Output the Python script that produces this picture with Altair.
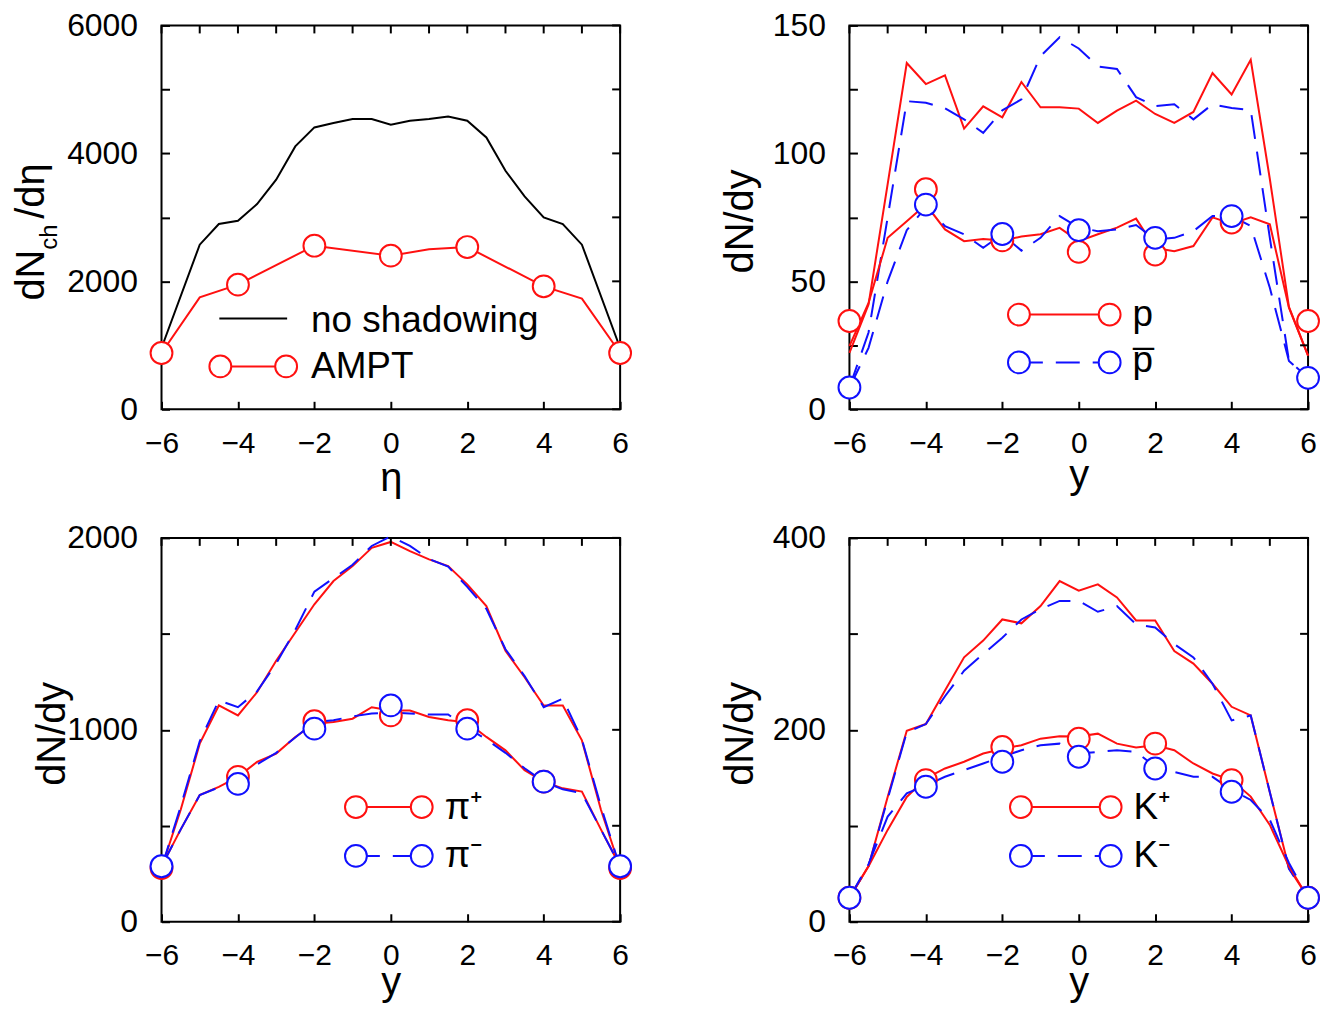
import altair as alt
import pandas as pd

FONT = "Liberation Sans"
RED = "#ff1010"
BLUE = "#1010ff"
BLACK = "#000000"
W, H = 460, 385
DASH = [24, 13]
LW = 2
TICK = 8

# ---------------- data ----------------
X_HALF = [-6, -5.5, -5, -4.5, -4, -3.5, -3, -2.5, -2, -1.5, -1, -0.5, 0,
          0.5, 1, 1.5, 2, 2.5, 3, 3.5, 4, 4.5, 5, 5.5, 6]
X_EVEN = [-6, -4, -2, 0, 2, 4, 6]
X_TICKS = [-6, -5, -4, -3, -2, -1, 0, 1, 2, 3, 4, 5, 6]

# (a) charged particles vs eta
ETA_NS = [-6, -5, -4.5, -4, -3.5, -3, -2.5, -2, -1.5, -1, -0.5, 0, 0.5, 1,
          1.5, 2, 2.5, 3, 3.5, 4, 4.5, 5, 6]
DNCH_NS = [958, 2573, 2896, 2948, 3208, 3589, 4109, 4406, 4474, 4536, 4536,
           4448, 4510, 4536, 4578, 4510, 4250, 3729, 3328, 3000, 2896, 2573, 958]
ETA_AMPT = [-6, -5, -4, -2, 0, 1, 2, 4, 5, 6]
DNCH_AMPT = [880, 1750, 1948, 2557, 2401, 2500, 2536, 1922, 1729, 880]
DNCH_AMPT_PTS = [880, 1948, 2557, 2401, 2536, 1922, 880]

# (b) protons / antiprotons
P_NS = [22, 41, 88, 135.3, 127.1, 130.5, 109.7, 118.4, 114.1, 127.9, 118.0,
        118.0, 117.5, 111.9, 116.7, 120.6, 115.4, 111.9, 116.2, 131.4, 123.0,
        136.6, 90, 40, 21]
PBAR_NS = [8.5, 30, 75, 120.4, 119.8, 117.6, 113.3, 108.0, 116.8, 121.1, 138.0,
           145.4, 141, 134, 133, 122, 118.5, 119.2, 113.3, 119.2, 117.7, 117,
           67, 19, 12.3]
P_AMPT = [24.7, 41.6, 67, 73.5, 80, 70.3, 65.7, 66.5, 66, 67.5, 68.4, 70.9,
          65.7, 68.4, 71, 74.5, 63, 61.8, 63.8, 75, 72.5, 75, 72.3, 39.7, 21]
PBAR_AMPT = [8.4, 24, 50, 70, 79, 71.6, 68.4, 63.1, 68.4, 62, 67, 75.5, 71,
             69.6, 70.3, 72, 66.4, 67, 69.6, 75.5, 75.5, 71.6, 47.5, 18.9, 12.3]
P_PTS = [34.5, 86, 66, 61.5, 60.5, 73, 34.5]
PBAR_PTS = [8.5, 80, 68.5, 70, 67, 75.5, 12.3]

# (c) pions
PIP_NS = [280, 582, 928, 1127, 1075, 1196, 1360, 1507, 1654, 1775, 1853, 1948,
          1979, 1931, 1888, 1853, 1758, 1645, 1412, 1274, 1127, 1127, 945, 582, 280]
PIM_NS = [280, 600, 940, 1153, 1118, 1200, 1345, 1520, 1720, 1790, 1860, 1958,
          2008, 1958, 1890, 1850, 1745, 1630, 1420, 1280, 1118, 1162, 950, 600, 280]
PIP_AMPT = [289, 480, 660, 703, 755, 833, 876, 963, 1032, 1041, 1058, 1118,
            1101, 1101, 1067, 1050, 1040, 963, 893, 790, 730, 695, 678, 480, 289]
PIM_AMPT = [289, 480, 660, 700, 740, 820, 880, 960, 1040, 1050, 1070, 1085,
            1090, 1085, 1080, 1080, 1010, 950, 880, 800, 730, 690, 670, 480, 289]
PIP_PTS = [280, 755, 1045, 1075, 1050, 730, 280]
PIM_PTS = [289, 718, 1006, 1127, 1006, 730, 289]

# (d) kaons
KP_NS = [25, 58, 130, 199, 206, 241, 275.5, 293, 315, 311, 329, 355, 345,
         351.6, 338, 314, 314, 282, 269, 248, 224, 215, 135, 56, 25]
KM_NS = [25, 58, 128, 197.5, 206, 235, 261.6, 279, 296, 315, 325.7, 334.3,
         334.3, 323, 329, 310, 306.7, 289.3, 275.5, 248, 209.8, 215, 135, 55, 25]
KP_AMPT = [25, 57.8, 95.7, 130, 149.4, 159.7, 166.7, 175.3, 180, 184, 190.8,
           193.2, 193, 196, 185.6, 181.5, 184, 178.7, 164.9, 154.5, 147.6,
           130.4, 100.9, 57.8, 25]
KM_AMPT = [25, 60, 109.6, 133.8, 142, 151.1, 158, 164.9, 171.9, 178.7, 183.9,
           185.6, 175.3, 177, 178.7, 177, 161.5, 156, 151, 151, 137.3, 126.9,
           106.1, 61.2, 25]
KP_PTS = [25, 147.6, 182.2, 190.8, 185.6, 147.6, 25]
KM_PTS = [25, 140.7, 166.7, 171.9, 159.7, 135.5, 25]

one = pd.DataFrame({"k": [0]})


def xscale():
    return alt.Scale(domain=[-6, 6], nice=False, zero=False)


def yscale(dom):
    return alt.Scale(domain=dom, nice=False, zero=False)


def make_axes(yticks, ystep, xtitle, xtitle_y, xlab_pad, ytitle):
    xa = alt.Axis(
        values=X_TICKS, format="d",
        labelExpr="datum.value % 2 === 0 ? datum.label : ''",
        tickSize=TICK, tickWidth=2, tickColor="black", offset=-TICK,
        domain=False, grid=False, labelFont=FONT, labelFontSize=30,
        labelColor="black", labelPadding=xlab_pad, labelFlush=False,
        labelOverlap=False, title=xtitle, titleFont=FONT, titleFontSize=40,
        titleFontWeight="normal", titleColor="black", titleX=W / 2,
        titleY=xtitle_y, titleBaseline="alphabetic", titleAlign="center",
    )
    ya = alt.Axis(
        values=yticks, format="d",
        labelExpr=f"datum.value % {ystep} === 0 ? datum.label : ''",
        tickSize=TICK, tickWidth=2, tickColor="black", offset=-TICK,
        domain=False, grid=False, labelFont=FONT, labelFontSize=32,
        labelColor="black", labelPadding=24, labelFlush=False,
        labelOverlap=False, title=ytitle, titleFont=FONT, titleFontSize=40,
        titleFontWeight="normal", titleColor="black", titleAngle=270,
        titleX=-105, titleY=196, titleBaseline="alphabetic", titleAlign="center",
    )
    return xa, ya


def line(xv, yv, color, dom, dash=None, axes=None):
    kw = {"strokeDash": dash} if dash else {}
    df = pd.DataFrame({"x": xv, "v": yv})
    if axes:
        xe = alt.X("x:Q", scale=xscale(), axis=axes[0])
        ye = alt.Y("v:Q", scale=yscale(dom), axis=axes[1])
    else:
        xe = alt.X("x:Q", scale=xscale())
        ye = alt.Y("v:Q", scale=yscale(dom))
    return alt.Chart(df).mark_line(color=color, strokeWidth=LW, **kw).encode(x=xe, y=ye)


def circles(xv, yv, color, dom):
    df = pd.DataFrame({"x": xv, "v": yv})
    return alt.Chart(df).mark_point(
        shape="circle", size=480, filled=True, fill="white", fillOpacity=1,
        stroke=color, strokeWidth=2, opacity=1
    ).encode(
        x=alt.X("x:Q", scale=xscale()),
        y=alt.Y("v:Q", scale=yscale(dom)),
    )


def mirror_ticks(dom, yticks):
    top = alt.Chart(pd.DataFrame({"x": X_TICKS})).mark_rule(
        color="black", strokeWidth=2).encode(
        x=alt.X("x:Q", scale=xscale()),
        y=alt.value(0), y2=alt.value(TICK))
    right = alt.Chart(pd.DataFrame({"v": yticks})).mark_rule(
        color="black", strokeWidth=2).encode(
        y=alt.Y("v:Q", scale=yscale(dom)),
        x=alt.value(W - TICK), x2=alt.value(W))
    return [top, right]


def seg(x1, x2, y, color, dash=None):
    kw = {"strokeDash": dash} if dash else {}
    return alt.Chart(one).mark_rule(color=color, strokeWidth=LW, **kw).encode(
        x=alt.value(x1), x2=alt.value(x2), y=alt.value(y))


def dot(x, y, color):
    return alt.Chart(one).mark_point(
        shape="circle", size=480, filled=True, fill="white", fillOpacity=1,
        stroke=color, strokeWidth=2, opacity=1
    ).encode(x=alt.value(x), y=alt.value(y))


def txt(x, y, s, size=37, angle=None):
    kw = {"angle": angle} if angle is not None else {}
    return alt.Chart(one).mark_text(
        text=s, font=FONT, fontSize=size, align="left", baseline="alphabetic",
        color="black", **kw).encode(x=alt.value(x), y=alt.value(y))


def legend_pair(x1, x2, y, color, dash):
    return [seg(x1, x2, y, color, dash), dot(x1, y, color), dot(x2, y, color)]


# ---------------- panel (a) ----------------
DOM_A = [0, 6000]
YT_A = [0, 1000, 2000, 3000, 4000, 5000, 6000]
pa = alt.layer(
    line(ETA_NS, DNCH_NS, BLACK, DOM_A,
         axes=make_axes(YT_A, 2000, "η", 89, 19, "")),
    line(ETA_AMPT, DNCH_AMPT, RED, DOM_A),
    *mirror_ticks(DOM_A, YT_A),
    circles(X_EVEN, DNCH_AMPT_PTS, RED, DOM_A),
    seg(58, 126, 294, BLACK),
    txt(150, 307, "no shadowing"),
    *legend_pair(59, 125, 342, RED, None),
    txt(150, 354, "AMPT"),
    txt(-118, 276, "dN", 40, 270),
    txt(-105, 225, "ch", 24, 270),
    txt(-118, 194, "/dη", 40, 270),
).properties(width=W, height=H)

# ---------------- panel (b) ----------------
DOM_B = [0, 150]
YT_B = [0, 25, 50, 75, 100, 125, 150]
pb = alt.layer(
    line(X_HALF, P_NS, RED, DOM_B,
         axes=make_axes(YT_B, 50, "y", 86, 19, "dN/dy")),
    line(X_HALF, PBAR_NS, BLUE, DOM_B, DASH),
    line(X_HALF, P_AMPT, RED, DOM_B),
    line(X_HALF, PBAR_AMPT, BLUE, DOM_B, DASH),
    *mirror_ticks(DOM_B, YT_B),
    circles(X_EVEN, P_PTS, RED, DOM_B),
    circles(X_EVEN, PBAR_PTS, BLUE, DOM_B),
    *legend_pair(170, 261, 290, RED, None),
    *legend_pair(170, 261, 338, BLUE, DASH),
    txt(284, 301, "p"),
    txt(284, 348, "p\u0305"),
).properties(width=W, height=H)

# ---------------- panel (c) ----------------
DOM_C = [0, 2000]
YT_C = [0, 500, 1000, 1500, 2000]
pc = alt.layer(
    line(X_HALF, PIP_NS, RED, DOM_C,
         axes=make_axes(YT_C, 1000, "y", 81, 19, "dN/dy")),
    line(X_HALF, PIM_NS, BLUE, DOM_C, DASH),
    line(X_HALF, PIP_AMPT, RED, DOM_C),
    line(X_HALF, PIM_AMPT, BLUE, DOM_C, DASH),
    *mirror_ticks(DOM_C, YT_C),
    circles(X_EVEN, PIP_PTS, RED, DOM_C),
    circles(X_EVEN, PIM_PTS, BLUE, DOM_C),
    *legend_pair(195, 261, 270, RED, None),
    *legend_pair(195, 261, 319, BLUE, DASH),
    txt(284, 282, "π⁺"),
    txt(284, 330, "π⁻"),
).properties(width=W, height=H)

# ---------------- panel (d) ----------------
DOM_D = [0, 400]
YT_D = [0, 100, 200, 300, 400]
pd_ = alt.layer(
    line(X_HALF, KP_NS, RED, DOM_D,
         axes=make_axes(YT_D, 200, "y", 81, 19, "dN/dy")),
    line(X_HALF, KM_NS, BLUE, DOM_D, DASH),
    line(X_HALF, KP_AMPT, RED, DOM_D),
    line(X_HALF, KM_AMPT, BLUE, DOM_D, DASH),
    *mirror_ticks(DOM_D, YT_D),
    circles(X_EVEN, KP_PTS, RED, DOM_D),
    circles(X_EVEN, KM_PTS, BLUE, DOM_D),
    *legend_pair(172, 262, 270, RED, None),
    *legend_pair(172, 262, 319, BLUE, DASH),
    txt(285, 282, "K⁺"),
    txt(285, 330, "K⁻"),
).properties(width=W, height=H)

chart = alt.concat(
    pa, pb, pc, pd_, columns=2,
    spacing={"row": 129, "column": 230}, bounds="flush",
).properties(
    padding={"left": 11, "top": 7, "right": 1, "bottom": 2},
    background="white",
).configure_view(stroke="black", strokeWidth=2)

chart.save("out.html", embed_options={"renderer": "svg", "actions": False})
